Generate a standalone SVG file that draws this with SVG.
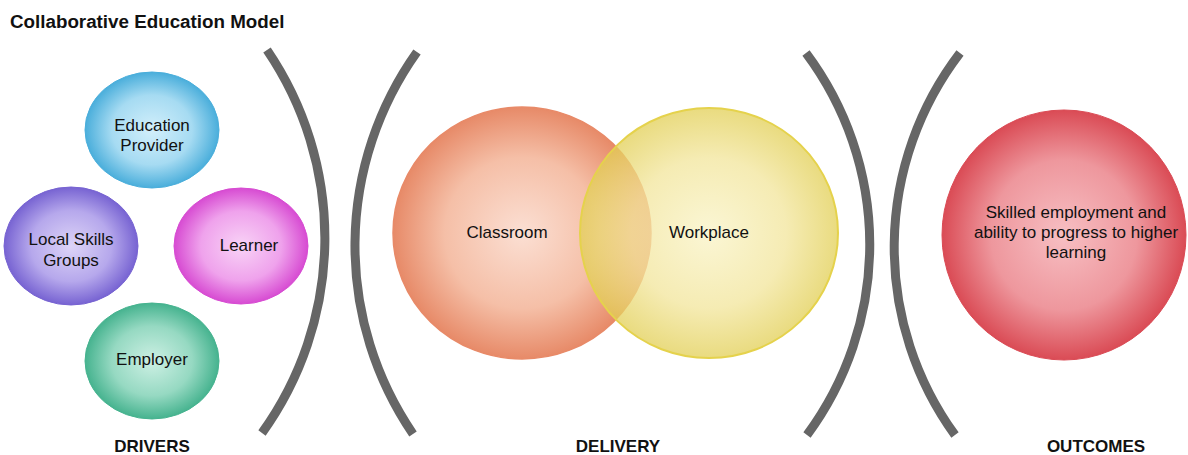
<svg xmlns="http://www.w3.org/2000/svg" width="1188" height="455" viewBox="0 0 1188 455">
<style>
  text { font-family: "Liberation Sans", Arial, sans-serif; fill: #111; }
  .lbl { font-size: 17px; text-anchor: middle; }
  .sec { font-size: 17px; font-weight: bold; text-anchor: middle; }
  .title { font-size: 18.8px; font-weight: bold; }
  .br { fill: none; stroke: #666; stroke-width: 9; }
</style>
<defs>
  <radialGradient id="gBlue"><stop offset="0" stop-color="#d2effb"/><stop offset="0.6" stop-color="#a6dbf2"/><stop offset="1" stop-color="#4aaedb"/></radialGradient>
  <radialGradient id="gPurple"><stop offset="0" stop-color="#ddd4f7"/><stop offset="0.6" stop-color="#b6a8ec"/><stop offset="1" stop-color="#7763d2"/></radialGradient>
  <radialGradient id="gPink"><stop offset="0" stop-color="#f8d3f6"/><stop offset="0.6" stop-color="#efa2ec"/><stop offset="1" stop-color="#d74bd2"/></radialGradient>
  <radialGradient id="gGreen"><stop offset="0" stop-color="#cdf0e4"/><stop offset="0.6" stop-color="#96d9c2"/><stop offset="1" stop-color="#46b38f"/></radialGradient>
  <radialGradient id="gOrange"><stop offset="0" stop-color="#fbdfd3"/><stop offset="0.6" stop-color="#f5bfa7"/><stop offset="1" stop-color="#e78a68"/></radialGradient>
  <radialGradient id="gYellow"><stop offset="0" stop-color="#f9f3c6"/><stop offset="0.6" stop-color="#f2e59a"/><stop offset="1" stop-color="#e2cf55"/></radialGradient>
  <radialGradient id="gRed"><stop offset="0" stop-color="#f7bfc3"/><stop offset="0.6" stop-color="#ee979d"/><stop offset="1" stop-color="#da4b55"/></radialGradient>
</defs>
<rect width="1188" height="455" fill="#fff"/>
<text class="title" x="10" y="28">Collaborative Education Model</text>

<g id="connectors">
  <path class="br" d="M267,50 A334,334 0 0 1 262,433"/>
  <path class="br" d="M417,52 A334,334 0 0 0 413,434"/>
  <path class="br" d="M806,53 A320,320 0 0 1 807,435"/>
  <path class="br" d="M960,53 A320,320 0 0 0 955,435"/>
</g>

<g id="education-provider">
  <ellipse cx="152" cy="130" rx="67" ry="58" fill="url(#gBlue)" stroke="#4aaedb" stroke-width="1"/>
  <text class="lbl" x="152" y="131">Education</text>
  <text class="lbl" x="152" y="151">Provider</text>
</g>
<g id="local-skills-groups">
  <ellipse cx="71" cy="246" rx="67" ry="59" fill="url(#gPurple)" stroke="#7763d2" stroke-width="1"/>
  <text class="lbl" x="71" y="245">Local Skills</text>
  <text class="lbl" x="71" y="266">Groups</text>
</g>
<g id="learner">
  <ellipse cx="241" cy="246" rx="67" ry="58" fill="url(#gPink)" stroke="#d74bd2" stroke-width="1"/>
  <text class="lbl" x="249" y="251">Learner</text>
</g>
<g id="employer">
  <ellipse cx="152" cy="361" rx="67" ry="58" fill="url(#gGreen)" stroke="#46b38f" stroke-width="1"/>
  <text class="lbl" x="152" y="365">Employer</text>
</g>

<g id="classroom">
  <ellipse cx="522" cy="233" rx="129" ry="126" fill="url(#gOrange)" stroke="#e88a68" stroke-width="1.5"/>
  <text class="lbl" x="507" y="238">Classroom</text>
</g>
<g id="workplace">
  <ellipse cx="709" cy="233" rx="129" ry="125" fill="url(#gYellow)" fill-opacity="0.75" stroke="#e5d24c" stroke-width="2"/>
  <text class="lbl" x="709" y="238">Workplace</text>
</g>

<g id="outcomes">
  <ellipse cx="1064" cy="235" rx="122" ry="125" fill="url(#gRed)" stroke="#da4b55" stroke-width="1"/>
  <text class="lbl" x="1076" y="218">Skilled employment and</text>
  <text class="lbl" x="1076" y="238">ability to progress to higher</text>
  <text class="lbl" x="1076" y="258">learning</text>
</g>

<text class="sec" x="152" y="452">DRIVERS</text>
<text class="sec" x="618" y="452">DELIVERY</text>
<text class="sec" x="1096" y="452">OUTCOMES</text>
</svg>
